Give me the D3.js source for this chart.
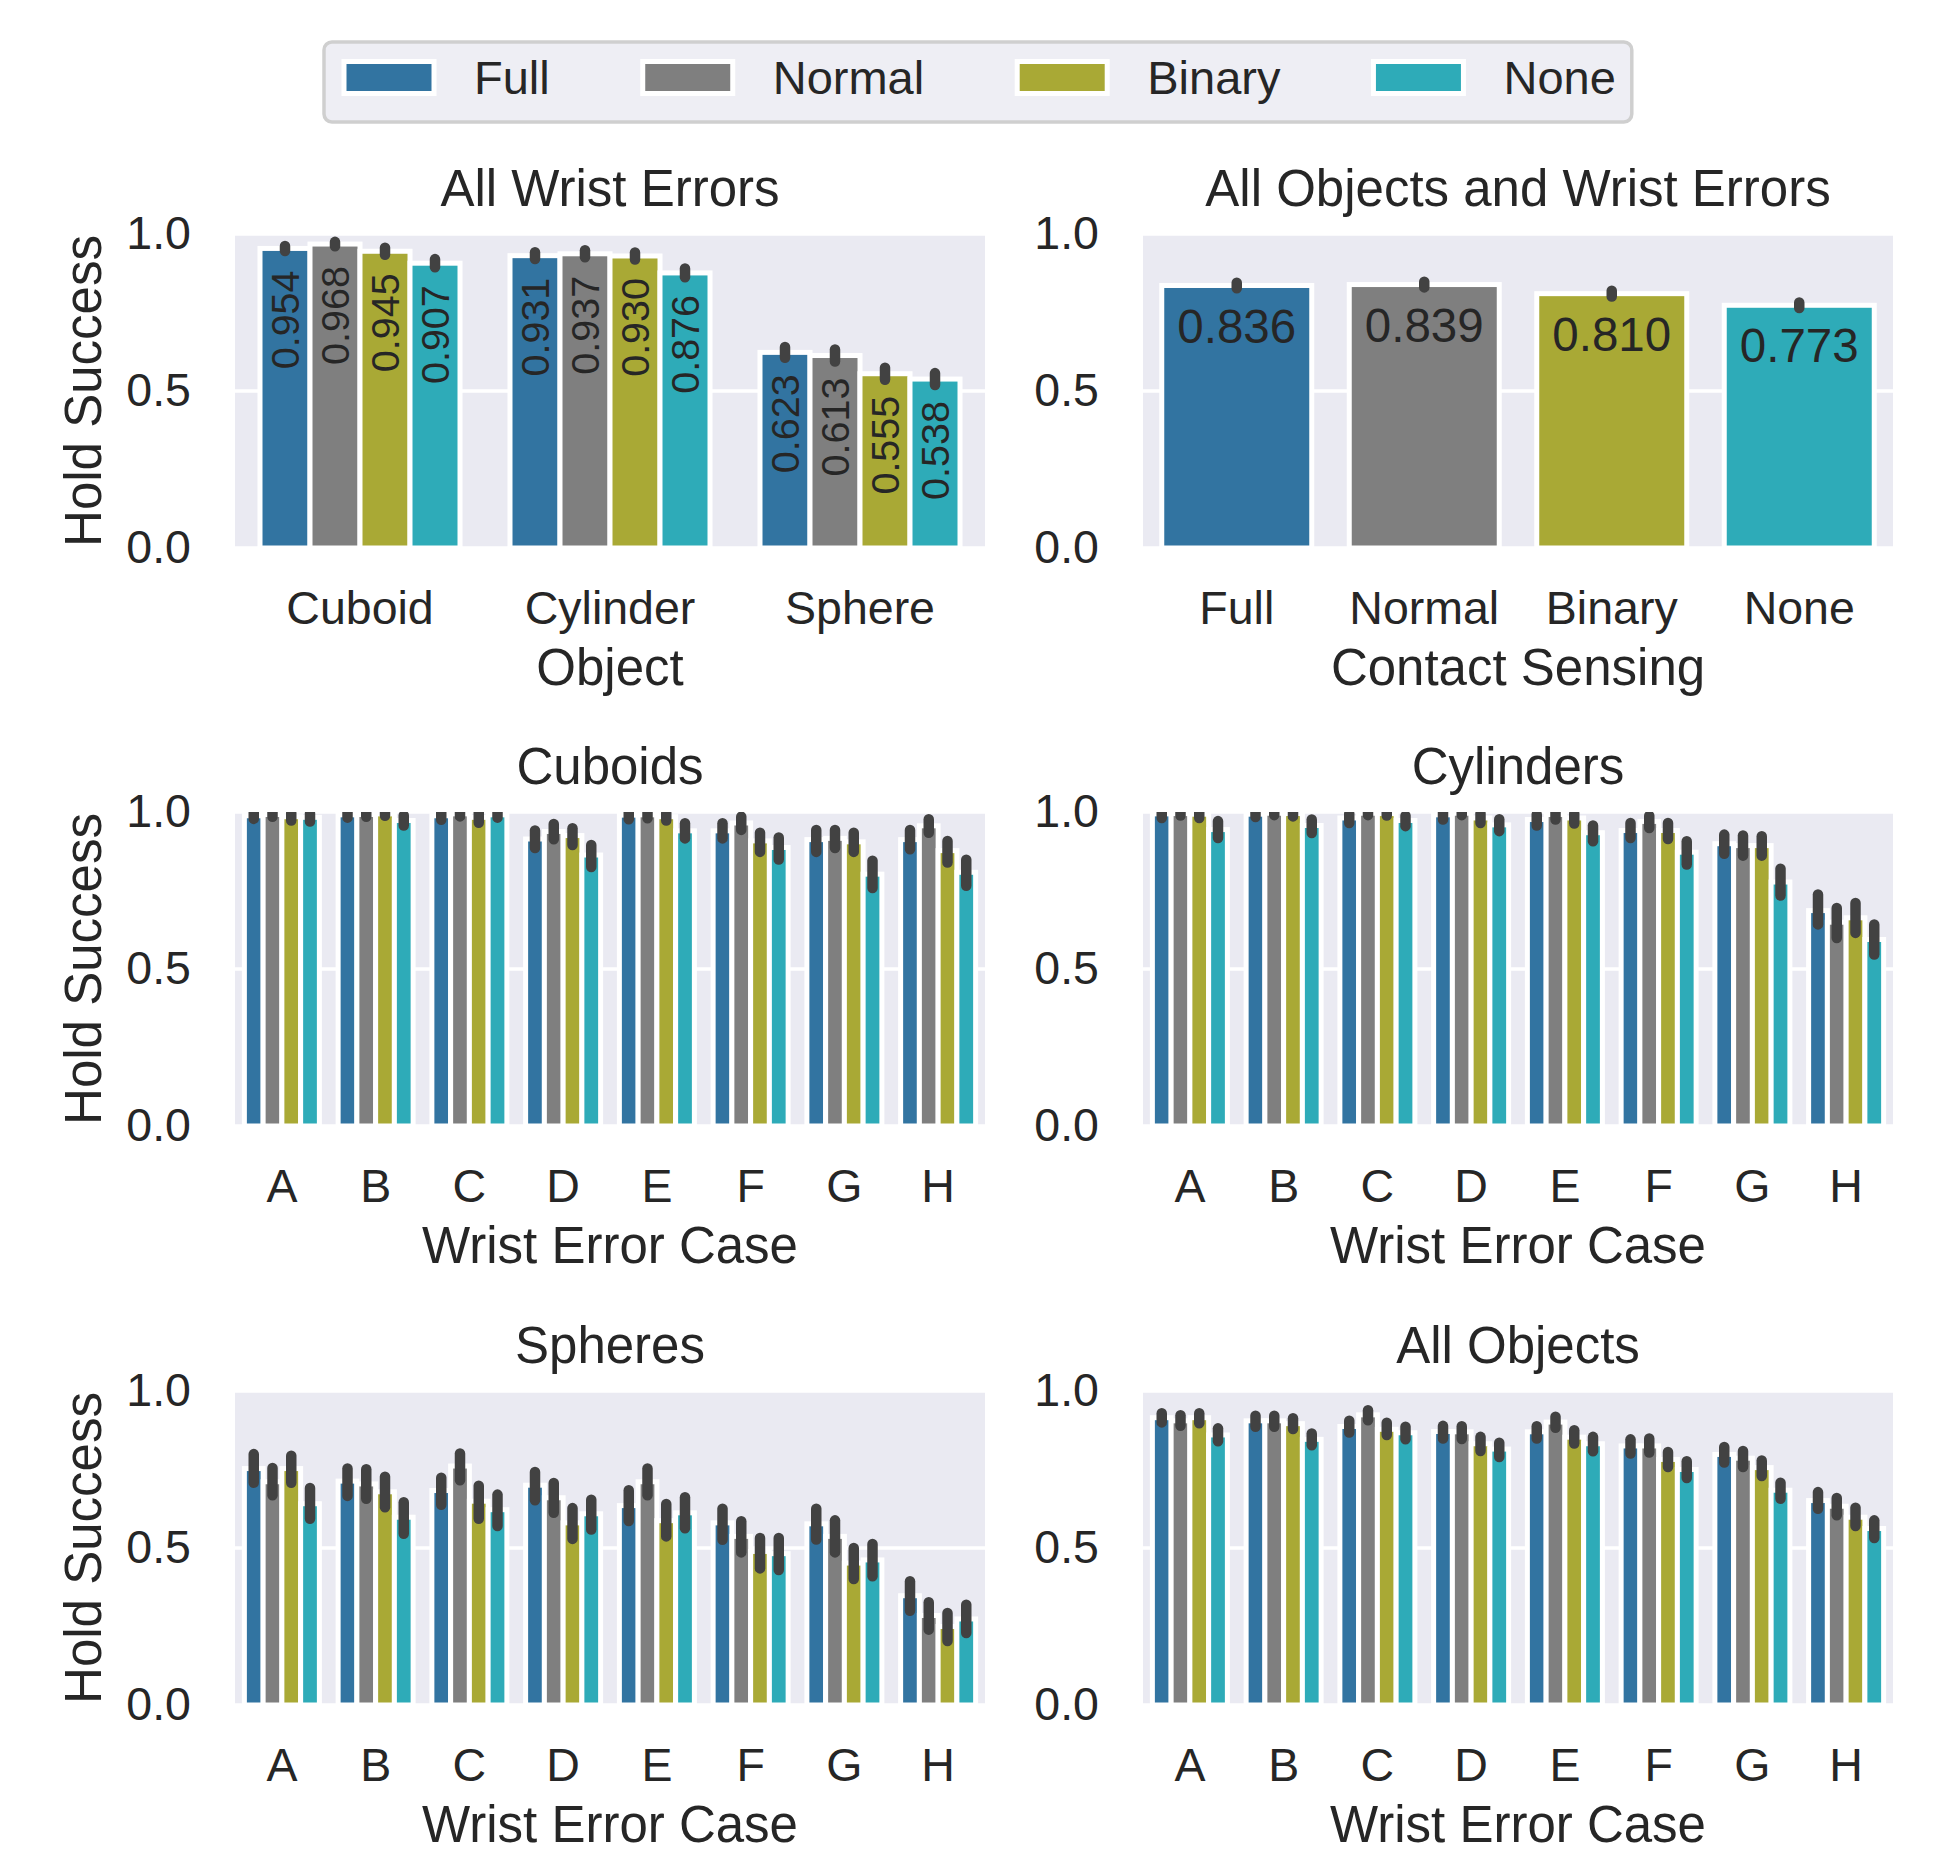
<!DOCTYPE html>
<html><head><meta charset="utf-8">
<script src="https://cdn.jsdelivr.net/npm/d3@7"></script>
<style>
body{margin:0;background:#fff}
text{font-family:"Liberation Sans",Arial,Helvetica,sans-serif;fill:#262626}
</style>
</head><body>
<svg id="c" width="1942" height="1854"></svg>
<script>
// ---------------- DATA ----------------
const hues = ["Full", "Normal", "Binary", "None"];
const objects = ["Cuboid", "Cylinder", "Sphere"];
const cases = ["A", "B", "C", "D", "E", "F", "G", "H"];
const yTicks = [0.0, 0.5, 1.0];

// Panel 1: All Wrist Errors (rows = object, cols = hue)
const objectMeans = [[0.954, 0.968, 0.945, 0.907], [0.931, 0.937, 0.930, 0.876], [0.623, 0.613, 0.555, 0.538]];
const objectLo    = [[0.946, 0.961, 0.934, 0.894], [0.920, 0.926, 0.919, 0.862], [0.606, 0.594, 0.536, 0.519]];
const objectHi    = [[0.962, 0.975, 0.956, 0.920], [0.942, 0.948, 0.941, 0.890], [0.640, 0.632, 0.574, 0.557]];

// Panel 2: All Objects and Wrist Errors (per contact sensing)
const sensingMeans = [0.836, 0.839, 0.810, 0.773];
const sensingLo    = [0.827, 0.830, 0.801, 0.764];
const sensingHi    = [0.845, 0.848, 0.819, 0.782];

// Panel 3: Cuboids (rows = wrist error case, cols = hue)
const cuboidMeans = [[0.988,0.992,0.985,0.983],[0.991,0.992,0.994,0.973],[0.988,0.994,0.983,0.991],[0.914,0.938,0.925,0.863],
                     [0.990,0.991,0.985,0.940],[0.940,0.965,0.908,0.887],[0.912,0.916,0.905,0.802],[0.912,0.956,0.877,0.808]];
const cuboidLo    = [[0.978,0.985,0.973,0.970],[0.982,0.985,0.988,0.957],[0.975,0.986,0.966,0.982],[0.885,0.913,0.895,0.825],
                     [0.977,0.980,0.973,0.916],[0.916,0.943,0.873,0.849],[0.873,0.885,0.873,0.758],[0.881,0.934,0.839,0.765]];
const cuboidHi    = [[0.997,1.000,0.996,0.995],[1.000,1.000,1.000,0.989],[0.998,1.000,0.997,1.000],[0.941,0.962,0.948,0.895],
                     [1.000,1.000,0.996,0.964],[0.964,0.985,0.934,0.919],[0.943,0.943,0.934,0.845],[0.943,0.977,0.908,0.848]];

// Panel 4: Cylinders
const cylinderMeans = [[0.994,0.995,0.993,0.944],[0.993,0.996,0.995,0.957],[0.981,0.996,0.995,0.973],[0.991,0.996,0.981,0.959],
                       [0.976,0.992,0.981,0.934],[0.941,0.970,0.941,0.872],[0.899,0.893,0.893,0.777],[0.686,0.649,0.663,0.594]];
const cylinderLo    = [[0.981,0.989,0.981,0.917],[0.984,0.990,0.986,0.933],[0.965,0.990,0.989,0.955],[0.976,0.990,0.965,0.939],
                       [0.957,0.976,0.963,0.907],[0.917,0.949,0.914,0.833],[0.867,0.861,0.861,0.734],[0.642,0.599,0.615,0.546]];
const cylinderHi    = [[1.000,1.000,1.000,0.971],[1.000,1.000,1.000,0.976],[0.994,1.000,1.000,0.988],[1.000,1.000,0.995,0.977],
                       [0.992,1.000,0.995,0.957],[0.965,0.988,0.965,0.907],[0.928,0.925,0.923,0.819],[0.737,0.694,0.710,0.642]];

// Panel 5: Spheres
const sphereMeans = [[0.753,0.711,0.753,0.641],[0.713,0.704,0.679,0.598],[0.683,0.761,0.649,0.622],[0.700,0.660,0.580,0.609],
                     [0.635,0.711,0.587,0.612],[0.580,0.537,0.489,0.482],[0.577,0.537,0.452,0.462],[0.348,0.285,0.250,0.274]];
const sphereLo    = [[0.708,0.668,0.708,0.593],[0.666,0.657,0.630,0.545],[0.638,0.716,0.593,0.570],[0.652,0.612,0.529,0.559],
                     [0.586,0.668,0.537,0.563],[0.526,0.486,0.435,0.430],[0.527,0.486,0.401,0.410],[0.300,0.240,0.204,0.229]];
const sphereHi    = [[0.799,0.755,0.794,0.691],[0.753,0.751,0.727,0.646],[0.724,0.801,0.698,0.670],[0.742,0.707,0.627,0.654],
                     [0.684,0.753,0.640,0.662],[0.625,0.585,0.532,0.532],[0.625,0.588,0.500,0.513],[0.394,0.327,0.293,0.319]];

// Panel 6: All Objects
const allObjMeans = [[0.915,0.905,0.915,0.860],[0.905,0.905,0.896,0.846],[0.887,0.924,0.878,0.867],[0.871,0.870,0.832,0.815],
                     [0.870,0.901,0.853,0.832],[0.825,0.825,0.782,0.750],[0.798,0.786,0.756,0.684],[0.651,0.633,0.598,0.562]];
const allObjLo    = [[0.900,0.889,0.897,0.840],[0.886,0.886,0.879,0.827],[0.868,0.907,0.860,0.846],[0.849,0.847,0.809,0.790],
                     [0.849,0.883,0.833,0.808],[0.801,0.804,0.758,0.723],[0.772,0.758,0.729,0.657],[0.625,0.604,0.570,0.532]];
const allObjHi    = [[0.929,0.923,0.929,0.881],[0.921,0.921,0.913,0.865],[0.905,0.939,0.899,0.886],[0.889,0.888,0.854,0.835],
                     [0.888,0.918,0.875,0.854],[0.846,0.849,0.806,0.776],[0.822,0.809,0.779,0.708],[0.678,0.659,0.628,0.588]];

// ---------------- STYLE ----------------
const hueColors = ["#3274a1", "#7f7f7f", "#a9a935", "#2eabb8"];
const FS = {tick: 46.5, label: 51, title: 51, legend: 47, annRot: 39.5, annFlat: 47.5};
const colLeft = [235, 1143], rowTop = [234, 812, 1391], AW = 750, AH = 314;

const svg = d3.select("#c");
svg.append("rect").attr("width", 1942).attr("height", 1854).attr("fill", "#fff");
const defs = svg.append("defs");

function drawPanel(cfg) {
  const {r, c, cats, means, lo, hi, grouped, title, xlabel, ylabel, ann} = cfg;
  const L = colLeft[c], T = rowTop[r];
  const clipId = "clip" + r + c;
  defs.append("clipPath").attr("id", clipId).append("rect")
    .attr("x", L).attr("y", T).attr("width", AW).attr("height", AH);
  const g = svg.append("g");
  g.append("rect").attr("x", L).attr("y", T).attr("width", AW).attr("height", AH).attr("fill", "#eaeaf2");

  const y = d3.scaleLinear().domain([0, 1]).range([T + AH, T]);
  const x0 = d3.scaleBand().domain(cats).range([L, L + AW]);

  const pg = g.append("g").attr("clip-path", `url(#${clipId})`);
  pg.selectAll("line.grid").data(yTicks).join("line").attr("class", "grid")
    .attr("x1", L).attr("x2", L + AW).attr("y1", d => y(d)).attr("y2", d => y(d))
    .attr("stroke", "#fff").attr("stroke-width", 3.5);

  const bars = [];
  if (grouped) {
    const x1 = d3.scaleBand().domain(hues).range([0.1 * x0.bandwidth(), 0.9 * x0.bandwidth()]);
    cats.forEach((cat, i) => hues.forEach((h, j) => bars.push({
      x: x0(cat) + x1(h), w: x1.bandwidth(), v: means[i][j], lo: lo[i][j], hi: hi[i][j], color: hueColors[j]})));
  } else {
    cats.forEach((cat, i) => bars.push({
      x: x0(cat) + 0.1 * x0.bandwidth(), w: 0.8 * x0.bandwidth(), v: means[i], lo: lo[i], hi: hi[i], color: hueColors[i]}));
  }
  pg.selectAll("rect.bar").data(bars).join("rect").attr("class", "bar")
    .attr("x", d => d.x).attr("width", d => d.w)
    .attr("y", d => y(d.v)).attr("height", d => y(0) - y(d.v))
    .attr("fill", d => d.color).attr("stroke", "#fff").attr("stroke-width", 5);
  pg.selectAll("line.err").data(bars).join("line").attr("class", "err")
    .attr("x1", d => d.x + d.w / 2).attr("x2", d => d.x + d.w / 2)
    .attr("y1", d => y(d.lo)).attr("y2", d => y(d.hi))
    .attr("stroke", "#424242").attr("stroke-width", 10.5).attr("stroke-linecap", "round");

  const fmt = d3.format(".3f");
  if (ann === "rot") {
    g.selectAll("text.ann").data(bars).join("text").attr("class", "ann")
      .attr("transform", d => `translate(${d.x + d.w / 2 + 0.358 * FS.annRot},${y(d.v) + 22}) rotate(-90)`)
      .attr("text-anchor", "end").style("font-size", FS.annRot + "px").text(d => fmt(d.v));
  } else if (ann === "flat") {
    g.selectAll("text.ann").data(bars).join("text").attr("class", "ann")
      .attr("x", d => d.x + d.w / 2).attr("y", d => y(d.v) + 23 + 0.716 * FS.annFlat)
      .attr("text-anchor", "middle").style("font-size", FS.annFlat + "px").text(d => fmt(d.v));
  }

  // axes
  const ya = g.append("g").attr("transform", `translate(${L},0)`)
    .call(d3.axisLeft(y).tickValues(yTicks).tickFormat(d3.format(".1f")).tickSize(0).tickPadding(44));
  const xa = g.append("g").attr("transform", `translate(0,${T + AH})`)
    .call(d3.axisBottom(x0).tickSize(0).tickPadding(43));
  [ya, xa].forEach(a => {
    a.select(".domain").remove();
    a.selectAll("text").style("font-size", FS.tick + "px").attr("fill", "#262626");
    a.attr("font-family", null).attr("font-size", null);
  });

  g.append("text").attr("x", L + AW / 2).attr("y", T - 28).attr("text-anchor", "middle")
    .style("font-size", FS.title + "px").text(title);
  if (xlabel) g.append("text").attr("x", L + AW / 2).attr("y", T + AH + 137).attr("text-anchor", "middle")
    .style("font-size", FS.label + "px").text(xlabel);
  if (ylabel) g.append("text").attr("transform", `translate(101,${T + AH / 2}) rotate(-90)`)
    .attr("text-anchor", "middle").style("font-size", FS.label + "px").text(ylabel);
}

drawPanel({r: 0, c: 0, cats: objects, means: objectMeans, lo: objectLo, hi: objectHi, grouped: true,
  title: "All Wrist Errors", xlabel: "Object", ylabel: "Hold Success", ann: "rot"});
drawPanel({r: 0, c: 1, cats: hues, means: sensingMeans, lo: sensingLo, hi: sensingHi, grouped: false,
  title: "All Objects and Wrist Errors", xlabel: "Contact Sensing", ylabel: null, ann: "flat"});
drawPanel({r: 1, c: 0, cats: cases, means: cuboidMeans, lo: cuboidLo, hi: cuboidHi, grouped: true,
  title: "Cuboids", xlabel: "Wrist Error Case", ylabel: "Hold Success"});
drawPanel({r: 1, c: 1, cats: cases, means: cylinderMeans, lo: cylinderLo, hi: cylinderHi, grouped: true,
  title: "Cylinders", xlabel: "Wrist Error Case", ylabel: null});
drawPanel({r: 2, c: 0, cats: cases, means: sphereMeans, lo: sphereLo, hi: sphereHi, grouped: true,
  title: "Spheres", xlabel: "Wrist Error Case", ylabel: "Hold Success"});
drawPanel({r: 2, c: 1, cats: cases, means: allObjMeans, lo: allObjLo, hi: allObjHi, grouped: true,
  title: "All Objects", xlabel: "Wrist Error Case", ylabel: null});

// ---------------- LEGEND ----------------
const lg = svg.append("g");
const box = lg.append("rect").attr("y", 42).attr("height", 80).attr("rx", 8)
  .attr("fill", "#eeeef4").attr("stroke", "#cfcfcf").attr("stroke-width", 3.5);
let cx = 344;
const boxLeft = 324;
hues.forEach((h, i) => {
  lg.append("rect").attr("x", cx).attr("y", 61.5).attr("width", 90).attr("height", 32)
    .attr("fill", hueColors[i]).attr("stroke", "#fff").attr("stroke-width", 5);
  const t = lg.append("text").attr("x", cx + 130).attr("y", 93.5).style("font-size", FS.legend + "px").text(h);
  const tw = t.node().getComputedTextLength();
  cx = cx + 130 + tw;
  if (i < hues.length - 1) cx += 93;
});
box.attr("x", boxLeft).attr("width", cx + 16 - boxLeft);
</script>
</body></html>
